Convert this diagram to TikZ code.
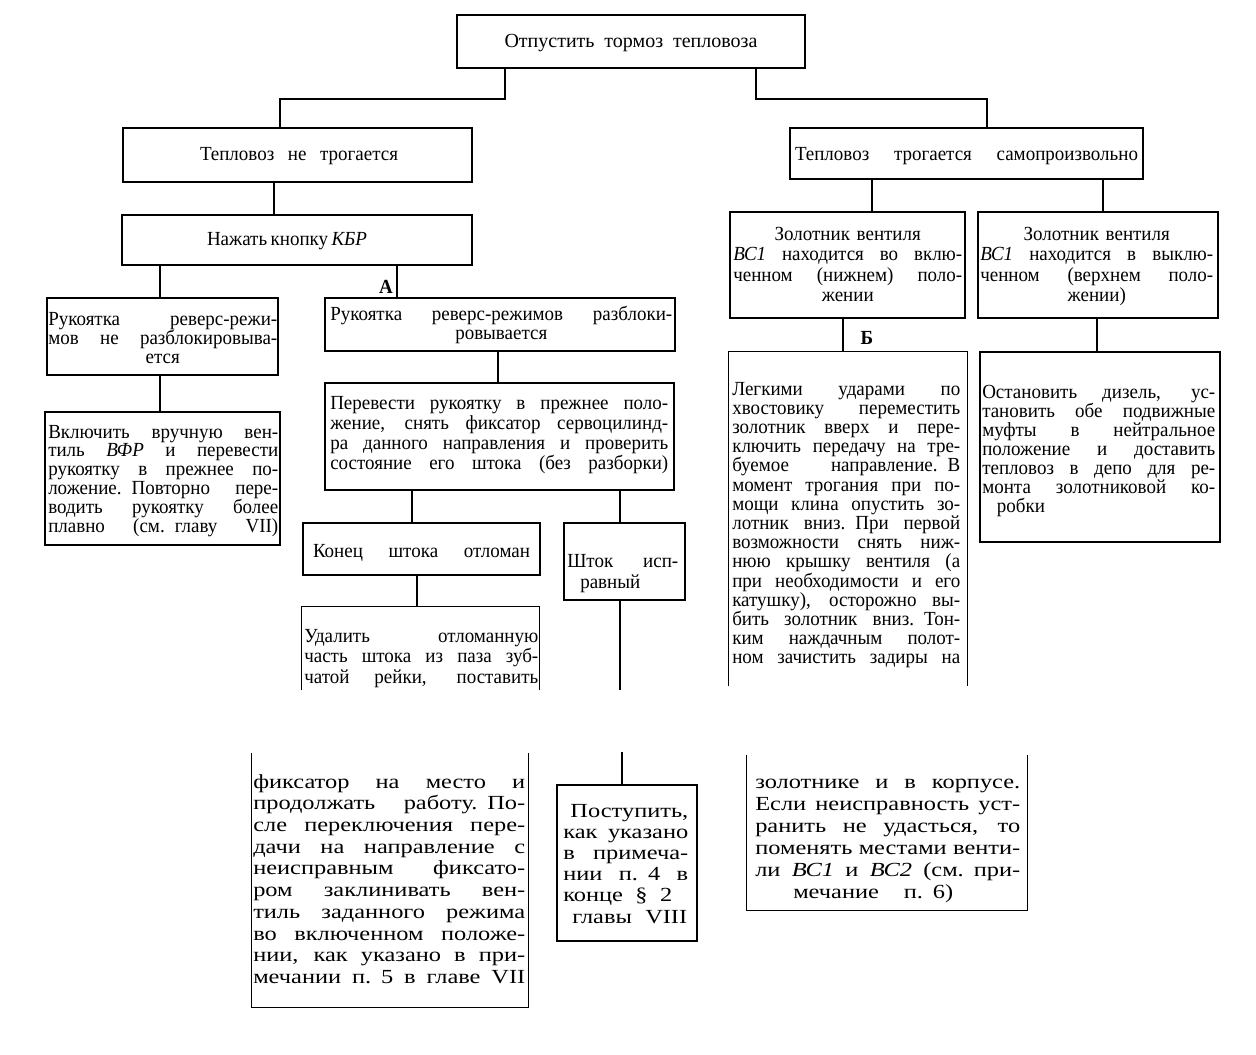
\documentclass[tikz,border=0pt]{standalone}
\usepackage{fontspec}
\setmainfont[FakeStretch=0.95]{Liberation Serif}
\newfontfamily\midfont[FakeStretch=1.0]{Liberation Serif}
\newfontfamily\widefont[FakeStretch=1.22]{Liberation Serif}
\usetikzlibrary{fit}
\newcommand\sps{\spaceskip=.25em plus 1fil minus .15em\relax}
\newcommand\J[1]{\makebox[\linewidth][s]{\sps#1}}
\newcommand\C[1]{\makebox[\linewidth][c]{#1}}
\newcommand\W[2]{\makebox[#1][s]{\sps#2}}
\begin{document}
\begin{tikzpicture}[x=0.75pt,y=-0.75pt,
  box/.style={draw, line width=1.1pt, inner sep=0pt},
  open/.style={inner sep=0pt},
  wire/.style={line width=1.1pt},
  txt/.style={inner sep=0pt, anchor=base west},
  one/.style={inner sep=0pt, anchor=base},
  fs/.style={font=\fontsize{15pt}{#1}\selectfont},
  fw/.style={font=\widefont\fontsize{15pt}{#1}\selectfont},
  lab/.style={inner sep=0pt, font=\fontsize{15pt}{15pt}\selectfont\bfseries}
]
\fill[white] (0,0) rectangle (1256,1054);
\useasboundingbox (0,0) rectangle (1256,1054);

% ---------- boxes ----------
\node[box, fit={(457,15)(805,68)}] (T) {};
\node[box, fit={(123,128)(472,182)}] (NT) {};
\node[box, fit={(790,128)(1143,179)}] (ST) {};
\node[box, fit={(122,215)(472,265)}] (KBR) {};
\node[box, fit={(47,298)(278,375)}] (R1) {};
\node[box, fit={(325,298)(675,351)}] (RA) {};
\node[box, fit={(45,412)(280,545)}] (V1) {};
\node[box, fit={(325,383)(674,490)}] (P) {};
\node[box, fit={(303,523)(540,575)}] (K) {};
\node[box, fit={(564,523)(685,600)}] (S) {};
\node[open, fit={(302,607)(539,690)}] (U) {};
\node[box, fit={(730,212)(965,318)}] (Z1) {};
\node[box, fit={(978,212)(1218,318)}] (Z2) {};
\node[open, fit={(729,352)(967,686)}] (B) {};
\node[box, fit={(980,352)(1220,542)}] (O) {};
\node[open, fit={(252,753)(528,1007)}] (F) {};
\node[box, fit={(557,785)(697,941)}] (PS) {};
\node[open, fit={(747,755)(1027,910)}] (ZK) {};

\draw[wire] (U.south west) -- (U.north west) -- (U.north east) -- (U.south east);
\draw[wire] (B.south west) -- (B.north west) -- (B.north east) -- (B.south east);
\draw[wire] (F.north west) -- (F.south west) -- (F.south east) -- (F.north east);
\draw[wire] (ZK.north west) -- (ZK.south west) -- (ZK.south east) -- (ZK.north east);

% ---------- connectors ----------
\coordinate (jL) at (280,99);
\coordinate (jR) at (987,99);
\draw[wire] (T.south -| 505,0) |- (jL) -- (NT.north -| jL);
\draw[wire] (T.south -| 756,0) |- (jR) -- (ST.north -| jR);
\draw[wire] (NT.south -| 274,0) -- (KBR.north -| 274,0);
\draw[wire] (KBR.south -| 160,0) -- (R1.north -| 160,0);
\draw[wire] (KBR.south -| 397,0) -- (RA.north -| 397,0);
\draw[wire] (R1.south -| 160,0) -- (V1.north -| 160,0);
\draw[wire] (RA.south -| 498,0) -- (P.north -| 498,0);
\draw[wire] (P.south -| 412,0) -- (K.north -| 412,0);
\draw[wire] (P.south -| 620,0) -- (S.north -| 620,0);
\draw[wire] (K.south -| 417,0) -- (U.north -| 417,0);
\coordinate (sb1) at (620,690);
\coordinate (sb2) at (622,752);
\draw[wire] (S.south -| sb1) -- (sb1);
\draw[wire] (sb2) -- (PS.north -| sb2);
\draw[wire] (ST.south -| 872,0) -- (Z1.north -| 872,0);
\draw[wire] (ST.south -| 1103,0) -- (Z2.north -| 1103,0);
\draw[wire] (Z1.south -| 843,0) -- (B.north -| 843,0);
\draw[wire] (Z2.south -| 1097,0) -- (O.north -| 1097,0);

\node[lab, anchor=base east] (lA) at (393,293) {А};
\node[lab, anchor=base] (lB) at (867,344) {Б};

% ---------- single-line texts ----------
\node[one, font=\midfont\fontsize{15pt}{15pt}\selectfont] (tT) at (631,47) {\W{189.75pt}{Отпустить тормоз тепловоза}};
\node[one, fs=15pt] (tNT) at (299,160) {\W{148.5pt}{Тепловоз не трогается}};
\node[one, fs=15pt] (tST) at (966.5,160) {\W{257.25pt}{Тепловоз трогается самопроизвольно}};
\node[one, fs=15pt] (tKBR) at (287,245) {\W{120pt}{Нажать кнопку \textit{КБР}}};
\node[one, fs=15pt] (tK) at (421.5,557) {\W{162.75pt}{Конец штока отломан}};

% ---------- multi-line texts ----------
\node[txt, fs=14.6pt, text width=171.75pt] (tR1) at (48,325) {%
\J{Рукоятка реверс-режи-}\\
\J{мов не разблокировыва-}\\
\C{ется}};

\node[txt, fs=14.25pt, text width=256.5pt] (tRA) at (330,320) {%
\J{Рукоятка реверс-режимов разблоки-}\\
\C{ровывается}};

\node[txt, fs=14.1pt, text width=172.5pt] (tV1) at (48,438) {%
\J{Включить вручную вен-}\\
\J{тиль \textit{ВФР} и перевести}\\
\J{рукоятку в прежнее по-}\\
\J{ложение. Повторно пере-}\\
\J{водить рукоятку более}\\
\J{плавно (см. главу VII)}};

\node[txt, fs=15pt, text width=253.5pt] (tP) at (330,409) {%
\J{Перевести рукоятку в прежнее поло-}\\
\J{жение, снять фиксатор сервоцилинд-}\\
\J{ра данного направления и проверить}\\
\J{состояние его штока (без разборки)}};

\node[txt, fs=15.75pt, text width=83.25pt] (tS) at (567,567) {%
\J{Шток исп-}\\
\hspace*{9.75pt}равный};

\node[txt, fs=15.4pt, text width=175.5pt] (tU) at (304,642) {%
\J{Удалить отломанную}\\
\J{часть штока из паза зуб-}\\
\J{чатой рейки, поставить}};

\node[txt, fs=15.4pt, text width=171.75pt] (tZ1) at (733,240) {%
\C{Золотник вентиля}\\
\J{\textit{ВС1} находится во вклю-}\\
\J{ченном (нижнем) поло-}\\
\C{жении}};

\node[txt, fs=15.4pt, text width=174.75pt] (tZ2) at (980,240) {%
\C{Золотник вентиля}\\
\J{\textit{ВС1} находится в выклю-}\\
\J{ченном (верхнем поло-}\\
\C{жении)}};

\node[txt, fs=14.4pt, text width=171pt] (tB) at (732,395) {%
\J{Легкими ударами по}\\
\J{хвостовику переместить}\\
\J{золотник вверх и пере-}\\
\J{ключить передачу на тре-}\\
\J{буемое направление. В}\\
\J{момент трогания при по-}\\
\J{мощи клина опустить зо-}\\
\J{лотник вниз. При первой}\\
\J{возможности снять ниж-}\\
\J{нюю крышку вентиля (а}\\
\J{при необходимости и его}\\
\J{катушку), осторожно вы-}\\
\J{бить золотник вниз. Тон-}\\
\J{ким наждачным полот-}\\
\J{ном зачистить задиры на}};

\node[txt, fs=14.25pt, text width=174.75pt] (tO) at (982,398) {%
\J{Остановить дизель, ус-}\\
\J{тановить обе подвижные}\\
\J{муфты в нейтральное}\\
\J{положение и доставить}\\
\J{тепловоз в депо для ре-}\\
\J{монта золотниковой ко-}\\
\hspace*{11pt}робки};

\node[txt, fw=16.3pt, text width=204pt] (tF) at (253,788) {%
\J{фиксатор на место и}\\
\J{продолжать работу. По-}\\
\J{сле переключения пере-}\\
\J{дачи на направление с}\\
\J{неисправным фиксато-}\\
\J{ром заклинивать вен-}\\
\J{тиль заданного режима}\\
\J{во включенном положе-}\\
\J{нии, как указано в при-}\\
\J{мечании п. 5 в главе VII}};

\node[txt, fw=15.9pt, text width=93.75pt] (tPS) at (563,817) {%
\makebox[\linewidth][r]{Поступить,}\\
\J{как указано}\\
\J{в примеча-}\\
\J{нии п. 4 в}\\
\W{81.75pt}{конце § 2}\\
\hspace*{6.75pt}\W{86.25pt}{главы VIII}};

\node[txt, fw=16.5pt, text width=198.75pt] (tZK) at (755,788) {%
\J{золотнике и в корпусе.}\\
\J{Если неисправность уст-}\\
\J{ранить не удасться, то}\\
\J{поменять местами венти-}\\
\J{ли \textit{ВС1} и \textit{ВС2} (см. при-}\\
\hspace*{28.5pt}\W{120pt}{мечание п. 6)}};
\end{tikzpicture}
\end{document}
